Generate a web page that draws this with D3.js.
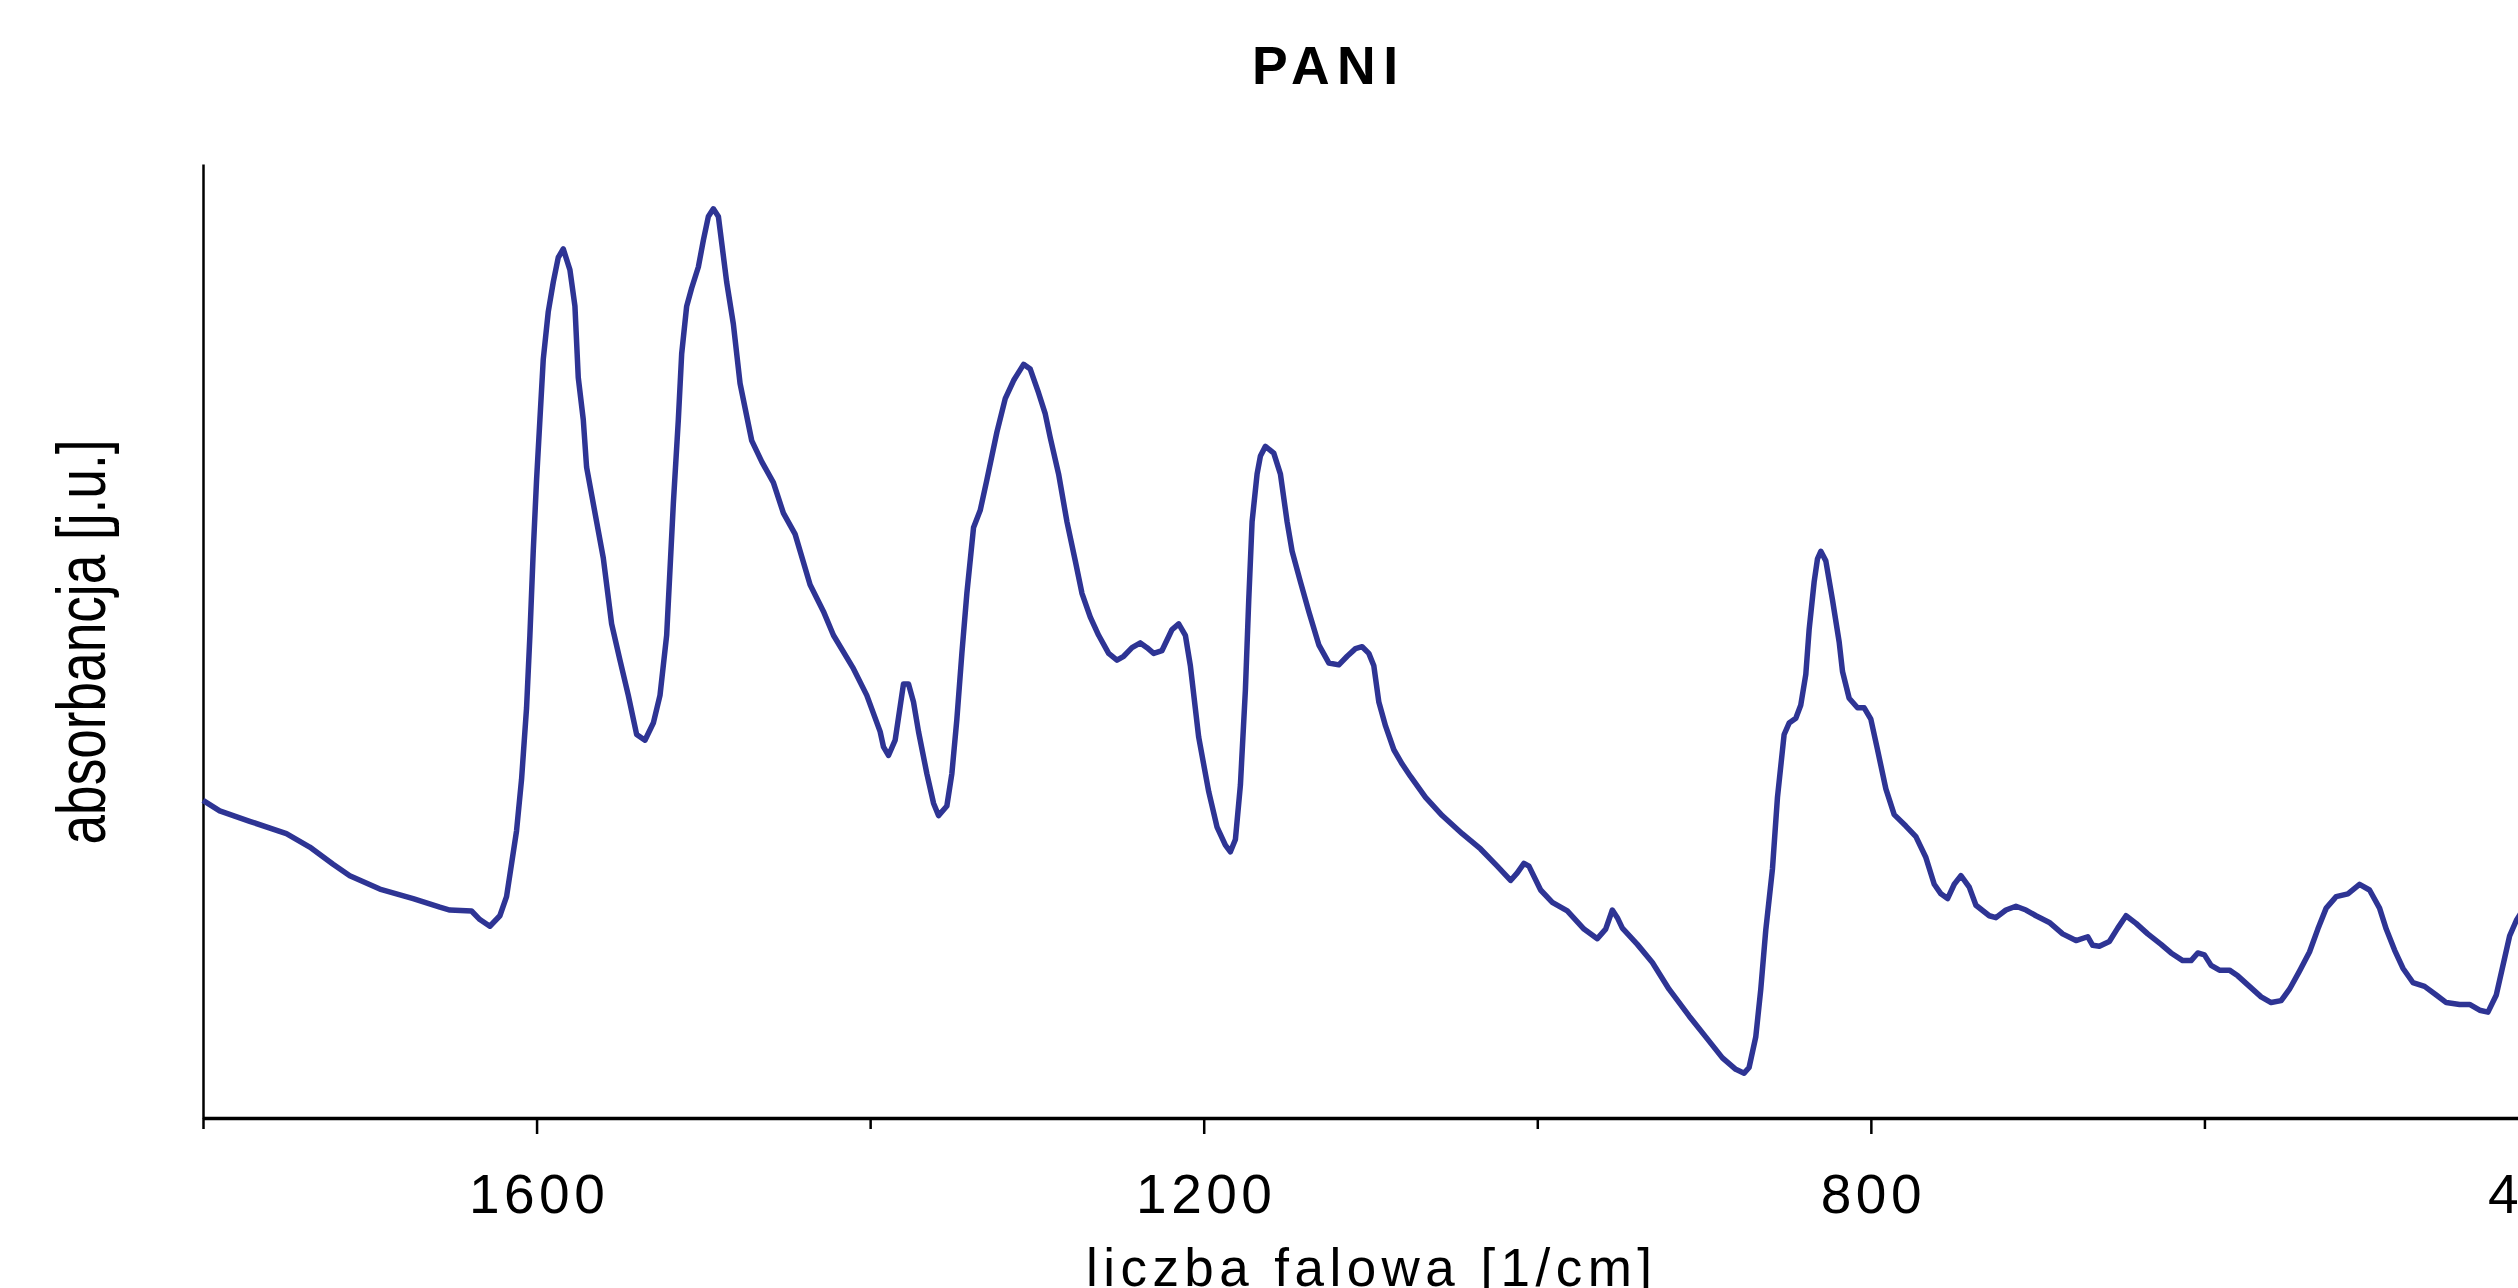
<!DOCTYPE html>
<html>
<head>
<meta charset="utf-8">
<title>PANI</title>
<script src="https://cdn.jsdelivr.net/npm/d3@7"></script>
<style>
  html, body { margin: 0; padding: 0; background: #fff; overflow: hidden; }
  #chart text { font-family: "Liberation Sans", Arial, sans-serif; fill: #000; }
</style>
</head>
<body>
<div id="chart"></div>
<script>
// FTIR spectrum of PANI (wavenumber in 1/cm, absorbance in arbitrary units)
const wavenumbers = [
  1800, 1790, 1772, 1750, 1736, 1722, 1712, 1694, 1674, 1658, 1652, 1639, 1634, 1628, 1622, 1618,
  1612, 1609, 1606, 1604, 1602, 1600, 1598, 1596, 1593, 1590, 1587, 1584, 1580, 1577, 1575, 1572,
  1570, 1564, 1560, 1555, 1550, 1545, 1540, 1535, 1530, 1526, 1522, 1520, 1518, 1515, 1513, 1510,
  1507, 1503, 1500, 1497, 1494, 1491, 1486, 1482, 1478, 1471, 1465, 1458, 1452, 1445, 1436, 1428,
  1422, 1410, 1402, 1394, 1392, 1389, 1385, 1380, 1377, 1374, 1371, 1366, 1362, 1359, 1354, 1351,
  1348, 1345, 1342, 1338, 1334, 1330, 1324, 1319, 1314, 1308, 1304, 1299, 1295, 1292, 1287, 1282,
  1277, 1273, 1268, 1263, 1257, 1252, 1248, 1243, 1238, 1234, 1230, 1225, 1219, 1215, 1211, 1208,
  1203, 1197, 1192, 1187, 1184, 1181, 1178, 1175, 1173, 1171, 1168, 1166, 1163, 1158, 1154, 1150,
  1147, 1142, 1137, 1131, 1125, 1119, 1114, 1109, 1105, 1101, 1098, 1095, 1091, 1086, 1081, 1076,
  1067, 1057, 1045, 1034, 1024, 1016, 1012, 1008, 1005, 998, 991, 982, 972, 964, 959, 955,
  952, 949, 940, 931, 921, 909, 899, 889, 881, 876, 873, 869, 866, 863, 859, 856,
  852, 849, 845, 842, 839, 837, 834, 832, 830, 827, 823, 819, 817, 813, 808, 804,
  800, 796, 791, 786, 779, 773, 767, 762, 758, 754, 750, 746, 741, 737, 729, 725,
  719, 713, 707, 701, 693, 685, 677, 670, 667, 663, 657, 652, 647, 641, 634, 626,
  620, 613, 608, 604, 600, 596, 591, 585, 580, 573, 566, 560, 554, 549, 543, 537,
  532, 527, 521, 514, 507, 501, 495, 491, 486, 481, 475, 468, 461, 455, 447, 441,
  435, 430, 425, 421, 417, 413, 405
];
const absorbance = [
  0.333, 0.322, 0.311, 0.298, 0.284, 0.266, 0.254, 0.240, 0.230, 0.221, 0.218, 0.217, 0.208, 0.201, 0.212, 0.232,
  0.301, 0.355, 0.430, 0.506, 0.594, 0.669, 0.732, 0.795, 0.845, 0.876, 0.902, 0.911, 0.889, 0.851, 0.776, 0.732,
  0.682, 0.625, 0.587, 0.518, 0.480, 0.443, 0.402, 0.396, 0.414, 0.443, 0.506, 0.575, 0.644, 0.732, 0.801, 0.851,
  0.870, 0.892, 0.920, 0.945, 0.953, 0.945, 0.876, 0.832, 0.770, 0.710, 0.688, 0.666, 0.634, 0.612, 0.559, 0.531,
  0.506, 0.471, 0.443, 0.405, 0.389, 0.380, 0.396, 0.455, 0.455, 0.436, 0.405, 0.361, 0.330, 0.317, 0.327, 0.361,
  0.418, 0.487, 0.550, 0.619, 0.637, 0.669, 0.719, 0.754, 0.773, 0.790, 0.785, 0.760, 0.738, 0.713, 0.675, 0.625,
  0.584, 0.550, 0.525, 0.506, 0.487, 0.480, 0.484, 0.493, 0.498, 0.493, 0.487, 0.490, 0.512, 0.518, 0.506, 0.474,
  0.399, 0.342, 0.305, 0.286, 0.279, 0.292, 0.349, 0.449, 0.543, 0.625, 0.675, 0.694, 0.704, 0.697, 0.675, 0.625,
  0.594, 0.562, 0.531, 0.496, 0.477, 0.475, 0.484, 0.492, 0.494, 0.487, 0.474, 0.436, 0.411, 0.386, 0.371, 0.358,
  0.336, 0.317, 0.298, 0.282, 0.264, 0.249, 0.257, 0.267, 0.264, 0.239, 0.226, 0.217, 0.198, 0.188, 0.198, 0.218,
  0.210, 0.199, 0.182, 0.163, 0.135, 0.107, 0.085, 0.063, 0.051, 0.047, 0.053, 0.085, 0.135, 0.197, 0.261, 0.336,
  0.402, 0.414, 0.419, 0.433, 0.465, 0.512, 0.562, 0.586, 0.594, 0.584, 0.543, 0.499, 0.468, 0.440, 0.430, 0.430,
  0.418, 0.386, 0.345, 0.318, 0.306, 0.295, 0.273, 0.245, 0.235, 0.230, 0.245, 0.254, 0.242, 0.223, 0.212, 0.210,
  0.218, 0.222, 0.218, 0.212, 0.205, 0.193, 0.186, 0.190, 0.181, 0.180, 0.185, 0.199, 0.212, 0.204, 0.193, 0.182,
  0.173, 0.165, 0.165, 0.173, 0.171, 0.160, 0.155, 0.155, 0.149, 0.138, 0.127, 0.121, 0.123, 0.135, 0.154, 0.174,
  0.198, 0.220, 0.232, 0.235, 0.245, 0.239, 0.220, 0.198, 0.176, 0.157, 0.142, 0.138, 0.129, 0.121, 0.119, 0.119,
  0.113, 0.111, 0.129, 0.160, 0.191, 0.207, 0.230
];
const majorTicks = [1600, 1200, 800, 400];
const minorTicks = [1800, 1400, 1000, 600];
const chartTitle = "PANI";
const xTitle = "liczba falowa [1/cm]";
const yTitle = "absorbancja [j.u.]";

const W = 2518, H = 1288;
// plot area runs a bit past the right edge of the picture (400 is cut off)
const margin = { top: 164, left: 203, bottom: 170 };
const plotRight = 2538;
const plotBottom = H - margin.bottom;

const data = wavenumbers.map((w, i) => ({ wn: w, a: absorbance[i] }));

const x = d3.scaleLinear().domain([1800, 400]).range([margin.left, plotRight]);
const y = d3.scaleLinear().domain([0, 1]).range([plotBottom, margin.top]);

const svg = d3.select("#chart")
    .append("svg")
    .attr("width", W)
    .attr("height", H)
    .style("display", "block");

// minor ticks (no labels)
const gMinor = svg.append("g")
    .attr("transform", `translate(0,${plotBottom})`)
    .call(d3.axisBottom(x).tickValues(minorTicks).tickSize(11).tickSizeOuter(0).tickFormat(""));
gMinor.select(".domain").remove();
gMinor.selectAll(".tick line").attr("stroke", "#000").attr("stroke-width", 2.5);

// major ticks with labels
const gMajor = svg.append("g")
    .attr("transform", `translate(0,${plotBottom})`)
    .call(d3.axisBottom(x).tickValues(majorTicks).tickSize(16).tickSizeOuter(0).tickFormat(d3.format("d")));
gMajor.attr("font-size", null).attr("font-family", null);
gMajor.select(".domain").attr("stroke", "#000").attr("stroke-width", 3.5);
gMajor.selectAll(".tick line").attr("stroke", "#000").attr("stroke-width", 2.5);
gMajor.selectAll(".tick text")
    .attr("y", 95)
    .attr("dy", null)
    .attr("dx", 2)
    .style("font-size", "55px")
    .style("letter-spacing", "4.5px");

// y axis: plain line, no ticks
const gY = svg.append("g")
    .attr("transform", `translate(${margin.left},0)`)
    .call(d3.axisLeft(y).tickValues([]).tickSizeOuter(0));
gY.select(".domain").attr("stroke", "#000").attr("stroke-width", 2.5);

// spectrum
const line = d3.line()
    .x(d => x(d.wn))
    .y(d => y(d.a));

svg.append("path")
    .datum(data)
    .attr("fill", "none")
    .attr("stroke", "#2e3494")
    .attr("stroke-width", 5.5)
    .attr("stroke-linejoin", "round")
    .attr("d", line);

// title
svg.append("text")
    .attr("x", 1325)
    .attr("y", 84)
    .attr("text-anchor", "middle")
    .attr("textLength", 146)
    .attr("lengthAdjust", "spacing")
    .style("font-size", "53.5px")
    .style("font-weight", "bold")
    .text(chartTitle);

// x axis title
svg.append("text")
    .attr("x", 1369)
    .attr("y", 1286)
    .attr("text-anchor", "middle")
    .attr("textLength", 566)
    .attr("lengthAdjust", "spacing")
    .style("font-size", "53px")
    .text(xTitle);

// y axis title (narrow, rotated)
svg.append("text")
    .attr("transform", "translate(104.5,642) rotate(-90)")
    .attr("text-anchor", "middle")
    .attr("textLength", 405)
    .attr("lengthAdjust", "spacingAndGlyphs")
    .style("font-size", "68px")
    .text(yTitle);
</script>
</body>
</html>
